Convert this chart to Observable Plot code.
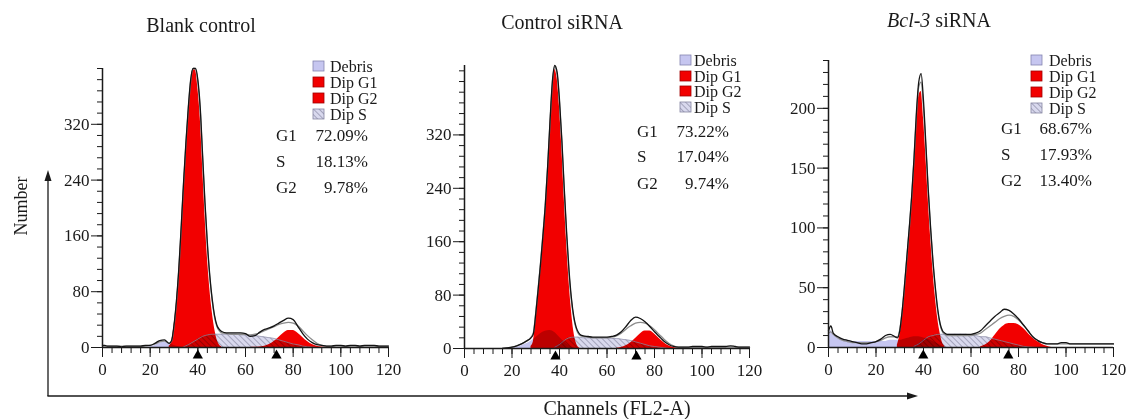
<!DOCTYPE html>
<html>
<head>
<meta charset="utf-8">
<script src="https://cdn.jsdelivr.net/npm/d3@7"></script>
<script src="https://cdn.jsdelivr.net/npm/@observablehq/plot@0.6"></script>
<style>
  html, body { margin: 0; padding: 0; background: #fff; }
  #root { position: relative; width: 1141px; height: 419px; overflow: hidden; font-family: "Liberation Serif", "Times New Roman", serif; }
  #root > svg { position: absolute; }
</style>
</head>
<body>
<div id="root"></div>
<script>
// ---------------- data ----------------
const titles = ["Blank control", "Control siRNA", "Bcl-3 siRNA"];
const titleItalic = ["", "", "Bcl-3"];
const legendLabels = ["Debris", "Dip G1", "Dip G2", "Dip S"];
const statLabels = ["G1", "S", "G2"];
const stats1 = ["72.09%", "18.13%", "9.78%"];
const stats2 = ["73.22%", "17.04%", "9.74%"];
const stats3 = ["68.67%", "17.93%", "13.40%"];
const xTicks = [0, 20, 40, 60, 80, 100, 120];
const yTicks1 = [0, 80, 160, 240, 320];
const yTicks2 = [0, 80, 160, 240, 320];
const yTicks3 = [0, 50, 100, 150, 200];
const yMax = [400, 424, 240];
const meanMarks1 = [40, 73];
const meanMarks2 = [38.3, 72.4];
const meanMarks3 = [39.9, 75.7];

// shared channel grid for measured histogram and fitted line
const chan = [0,1,2,4,6,8,10,12,14,16,18,20,22,24,26,28,
  29,30,31,32,33,34,35,36,37,38,39,40,41,42,43,44,45,46,47,48,49,
  50,52,54,56,58,60,62,64,66,68,70,72,74,76,78,80,82,84,86,88,90,92,94,96,98,100,102,104,106,108,110,112,114,116,118,120];

// Panel 1 — Blank control
const hist1 = [3,3,2,2,2,1,2,2,2,2,3,3,6,10,11,6,
  10,32,66,112,172,236,294,344,384,400,400,384,344,276,208,150,104,70,46,32,26,
  23,21,21,21,21,20,16,17,22,26,28,31,35,39,42,40,30,20,12,7,4,3,2,2,3,3,2,3,3,2,3,3,3,2,2,2];
const fit1 = [2,2,2,2,2,2,2,2,2,2,2,3,5,8,9,6,
  9,30,64,110,170,234,292,342,382,400,400,380,340,272,204,146,101,68,44,30,24,
  21,20,19,19,19,19,18,19,21,24,27,30,33,35,36,35,31,24,17,11,6,3,2,2,2,2,2,2,2,2,2,2,2,2,2,2];
const g1X1 = [28,29,30,31,32,33,34,35,36,37,38,39,40,41,42,43,44,45,46,47,48,49,50];
const g1Y1 = [2,8,30,62,105,165,228,285,335,375,398,398,372,330,260,190,130,85,52,28,12,4,1];
const g2X1 = [62,64,66,68,70,72,74,76,78,80,82,84,86,88,90,92,94,96];
const g2Y1 = [0,0.2,0.6,1.8,4.3,8.6,14.5,20.6,24.5,24.5,20.6,14.5,8.6,4.3,1.8,0.6,0.2,0];
const sX1 = [34,36,38,40,42,44,46,48,50,52,54,56,58,60,62,64,66,68,70,72,74,76,78,80,82,84,86,88,90];
const sY1 = [1,4,8,12,16,18,19,19,19,19,19,19,18,18,17,17,16,15,14,13,11,9,7,5,4,2,1,0.5,0];
const debX1 = [18,20,22,24,26,28,30,32,34];
const debY1 = [0,1,3,6,8,6,3,1,0];

// Panel 2 — Control siRNA
const hist2 = [null,null,null,null,null,null,null,null,null,0,1,2,4,7,11,16,
  22,52,88,126,168,214,272,340,400,424,414,372,312,240,174,118,76,48,32,24,20,
  19,18,17,17,17,17,18,20,25,33,42,47,45,40,33,25,18,11,6,3,2,2,2,3,3,3,2,3,3,3,3,4,3,2,2,2];
const fit2 = [null,null,null,null,null,null,null,null,null,0,1,2,4,7,11,17,
  24,54,90,128,170,215,272,338,398,422,410,368,308,235,168,112,72,45,30,22,19,
  18,17,16,16,16,16,17,19,23,29,34,38,39,38,34,28,21,14,8,4,2,2,2,2,2,2,2,2,2,2,2,2,2,2,2,2];
const g1X2 = [28,29,30,31,32,33,34,35,36,37,38,39,40,41,42,43,44,45,46,47,48,49];
const g1Y2 = [3,10,45,80,118,160,205,262,330,390,418,405,362,300,225,158,102,58,26,9,2,0];
const g2X2 = [64,66,68,70,72,74,76,78,80,82,84,86,88,90,92];
const g2Y2 = [0.5,1.5,4,8.5,15,21.8,26.4,26.4,21.8,15,8.5,4,1.5,0.5,0];
const sX2 = [38,40,42,44,46,48,50,52,54,56,58,60,62,64,66,68,70,72,74,76,78,80,82,84,86];
const sY2 = [2,6,12,16,17,17,16,16,16,16,16,16,15,15,14,13,12,10,8,6,4,3,2,1,0];
const debX2 = [18,20,22,24,26,28,30,32,34,36,38,40,42,44,46,48];
const debY2 = [0,1,2,4,7,11,16,22,26,27,24,17,10,4,1,0];

// Panel 3 — Bcl-3 siRNA
const hist3 = [14,18,12,9,7,6,5,4,3,3,4,5,7,10,11,9,
  8,14,30,52,76,100,126,158,196,222,229,206,170,132,100,72,50,32,20,14,12,
  11,11,11,11,11,11,12,14,18,22,26,29,32,31,28,24,19,14,9,6,4,3,3,3,4,4,3,3,3,3,3,3,3,3,3,3];
const fit3 = [12,13,11,8,6,5,4,4,4,4,4,5,6,8,9,9,
  9,15,30,51,75,99,125,157,193,218,222,200,167,130,98,70,48,30,19,13,11,
  10,10,10,10,10,10,11,12,15,18,21,24,26,27,26,23,19,14,9,6,4,3,3,3,3,3,3,3,3,3,3,3,3,3,3,3];
const g1X3 = [29,30,31,32,33,34,35,36,37,38,39,40,41,42,43,44,45,46,47,48,49];
const g1Y3 = [2,10,25,45,68,92,118,150,185,210,214,192,160,124,92,64,42,24,12,4,1];
const g2X3 = [64,66,68,70,72,74,76,78,80,82,84,86,88,90,92,94];
const g2Y3 = [0.5,2,5,10,15,18.5,20,20,19,16,12,8,5,2.5,1,0];
const sX3 = [36,38,40,42,44,46,48,50,52,54,56,58,60,62,64,66,68,70,72,74,76,78,80,82,84,86,88];
const sY3 = [1,3,6,9,10,11,11,11,11,11,11,11,10,10,9,9,8,7,6,5,4,3,2,1,0.5,0.2,0];
const debX3 = [0,1,2,4,6,8,10,12,14,16,18,20,22,24,26,28,30,32,34,36,38,40,42,44,46,48,50];
const debY3 = [13,14,12,9,7,6,5,5,5,5,5,5,5,5,6,6,6,7,8,9,9,8,7,5,3,1,0];

// ---------------- layout ----------------
const RED = "#f20000";
const DEBRIS = "#c6c6f0";
const panels = [
  {hist: hist1, fit: fit1, g1: [g1X1, g1Y1], g2: [g2X1, g2Y1], s: [sX1, sY1], deb: [debX1, debY1],
   yTicks: yTicks1, ymax: yMax[0], minorY: 16, marks: meanMarks1, stats: stats1,
   left: 52, top: 58, plotW: 286, plotH: 279,
   title: [201, 25], legend: {sw: 313, tx: 330, rows: [66, 82, 98, 114]}, st: {lx: 276, vx: 368, rows: [135, 161, 187]}},
  {hist: hist2, fit: fit2, g1: [g1X2, g1Y2], g2: [g2X2, g2Y2], s: [sX2, sY2], deb: [debX2, debY2],
   yTicks: yTicks2, ymax: yMax[1], minorY: 16, marks: meanMarks2, stats: stats2,
   left: 414, top: 55, plotW: 285, plotH: 283,
   title: [562, 22], legend: {sw: 680, tx: 694, rows: [60, 76, 91, 107]}, st: {lx: 637, vx: 729, rows: [131, 156, 183]}},
  {hist: hist3, fit: fit3, g1: [g1X3, g1Y3], g2: [g2X3, g2Y3], s: [sX3, sY3], deb: [debX3, debY3],
   yTicks: yTicks3, ymax: yMax[2], minorY: 10, marks: meanMarks3, stats: stats3,
   left: 778, top: 50, plotW: 285, plotH: 287,
   title: [939, 20], legend: {sw: 1031, tx: 1049, rows: [60, 76, 92, 108]}, st: {lx: 1001, vx: 1092, rows: [128, 154, 180]}}
];

const root = document.getElementById("root");
const zip = (xs, ys) => xs.map((x, i) => ({x, y: ys[i]}));
const ML = 50, MR = 12, MT = 10, MB = 40;

panels.forEach((p, k) => {
  const hist = chan.map((x, i) => ({x, y: p.hist[i]}));
  const fit = chan.map((x, i) => ({x, y: p.fit[i]}));
  const minorX = d3.range(0, 121, 4);
  const minorY = d3.range(0, p.ymax + 0.1, p.minorY);
  const svg = Plot.plot({
    width: ML + p.plotW + MR,
    height: MT + p.plotH + MB,
    marginLeft: ML, marginRight: MR, marginTop: MT, marginBottom: MB,
    x: {domain: [0, 120], label: null},
    y: {domain: [0, p.ymax], label: null},
    style: "background: transparent; overflow: visible; font-family: 'Liberation Serif', serif; font-size: 17px; color: #1a1a1a;",
    marks: [
      Plot.areaY(zip(p.g1[0], p.g1[1]), {x: "x", y: "y", fill: RED, curve: "monotone-x"}),
      Plot.areaY(zip(p.g2[0], p.g2[1]), {x: "x", y: "y", fill: RED, curve: "monotone-x"}),
      Plot.areaY(zip(p.s[0], p.s[1]), {x: "x", y: "y", fill: "url(#hatchS)", mixBlendMode: "multiply", curve: "monotone-x"}),
      Plot.lineY(zip(p.s[0], p.s[1]), {x: "x", y: "y", stroke: "#9090a8", strokeWidth: 0.7, curve: "monotone-x"}),
      Plot.areaY(zip(p.deb[0], p.deb[1]), {x: "x", y: "y", fill: DEBRIS, mixBlendMode: "multiply", curve: "monotone-x"}),
      Plot.lineY(fit, {x: "x", y: "y", stroke: "#8c8c8c", strokeWidth: 1.3, curve: "monotone-x"}),
      Plot.lineY(hist, {x: "x", y: "y", stroke: "#141414", strokeWidth: 1.3, curve: "monotone-x"}),
      Plot.ruleX([0], {stroke: "#1a1a1a", strokeWidth: 1.5}),
      Plot.ruleY([0], {stroke: "#1a1a1a", strokeWidth: 1.5}),
      Plot.axisX({ticks: minorX, tickSize: 6, tickFormat: () => "", label: null, stroke: "#1a1a1a"}),
      Plot.axisX({ticks: xTicks, tickSize: 10, tickPadding: 5, label: null, stroke: "#1a1a1a", fontSize: 17, fill: "#1a1a1a"}),
      Plot.axisY({ticks: minorY, tickSize: 5, tickFormat: () => "", label: null, stroke: "#1a1a1a"}),
      Plot.axisY({ticks: p.yTicks, tickSize: 11, tickPadding: 2, label: null, stroke: "#1a1a1a", fontSize: 17, fill: "#1a1a1a"}),
      Plot.dot(p.marks, {x: d => d, frameAnchor: "bottom", dy: 8, symbol: "triangle", r: 3.8, fill: "#000", stroke: null})
    ]
  });
  svg.style.left = p.left + "px";
  svg.style.top = p.top + "px";
  root.appendChild(svg);
});

// ---------------- overlay: titles, legends, stats, outer axes ----------------
const ov = d3.select(root).append("svg")
  .attr("width", 1141).attr("height", 419)
  .style("left", "0px").style("top", "0px")
  .style("font-family", "'Liberation Serif', 'Times New Roman', serif")
  .style("fill", "#1a1a1a");

const defs = ov.append("defs");
const pat = defs.append("pattern").attr("id", "hatchS")
  .attr("patternUnits", "userSpaceOnUse").attr("width", 4).attr("height", 4)
  .attr("patternTransform", "rotate(-45)");
pat.append("rect").attr("width", 4).attr("height", 4).attr("fill", "#d9d9ee");
pat.append("line").attr("x1", 0).attr("y1", 0).attr("x2", 0).attr("y2", 4)
  .attr("stroke", "#8d8da6").attr("stroke-width", 1.4);

const swatchFill = [DEBRIS, RED, RED, "url(#hatchS)"];
const swatchStroke = ["#8484b0", "#a00000", "#a00000", "#8484a0"];

panels.forEach((p, k) => {
  const t = ov.append("text").attr("x", p.title[0]).attr("y", p.title[1])
    .attr("text-anchor", "middle").attr("dominant-baseline", "central")
    .attr("font-size", 20);
  if (titleItalic[k]) {
    t.append("tspan").attr("font-style", "italic").text(titleItalic[k]);
    t.append("tspan").text(titles[k].slice(titleItalic[k].length));
  } else {
    t.text(titles[k]);
  }
  legendLabels.forEach((lab, i) => {
    const cy = p.legend.rows[i];
    ov.append("rect").attr("x", p.legend.sw).attr("y", cy - 5).attr("width", 11).attr("height", 10)
      .attr("fill", swatchFill[i]).attr("stroke", swatchStroke[i]).attr("stroke-width", 0.8);
    ov.append("text").attr("x", p.legend.tx).attr("y", cy).attr("dominant-baseline", "central")
      .attr("font-size", 16).text(lab);
  });
  statLabels.forEach((lab, i) => {
    const cy = p.st.rows[i];
    ov.append("text").attr("x", p.st.lx).attr("y", cy).attr("dominant-baseline", "central")
      .attr("font-size", 17).text(lab);
    ov.append("text").attr("x", p.st.vx).attr("y", cy).attr("dominant-baseline", "central")
      .attr("text-anchor", "end").attr("font-size", 17).text(p.stats[i]);
  });
});

ov.append("text").attr("transform", "translate(21,206) rotate(-90)")
  .attr("text-anchor", "middle").attr("dominant-baseline", "central")
  .attr("font-size", 18).text("Number");
ov.append("text").attr("x", 617).attr("y", 408)
  .attr("text-anchor", "middle").attr("dominant-baseline", "central")
  .attr("font-size", 20).text("Channels (FL2-A)");

ov.append("line").attr("x1", 48).attr("y1", 396).attr("x2", 48).attr("y2", 178)
  .attr("stroke", "#1a1a1a").attr("stroke-width", 1.3);
ov.append("polygon").attr("points", "48,170 44.5,181 51.5,181").attr("fill", "#1a1a1a");
ov.append("line").attr("x1", 47.4).attr("y1", 396).attr("x2", 910).attr("y2", 396)
  .attr("stroke", "#1a1a1a").attr("stroke-width", 1.3);
ov.append("polygon").attr("points", "918,396 907,392.5 907,399.5").attr("fill", "#1a1a1a");
</script>
</body>
</html>
